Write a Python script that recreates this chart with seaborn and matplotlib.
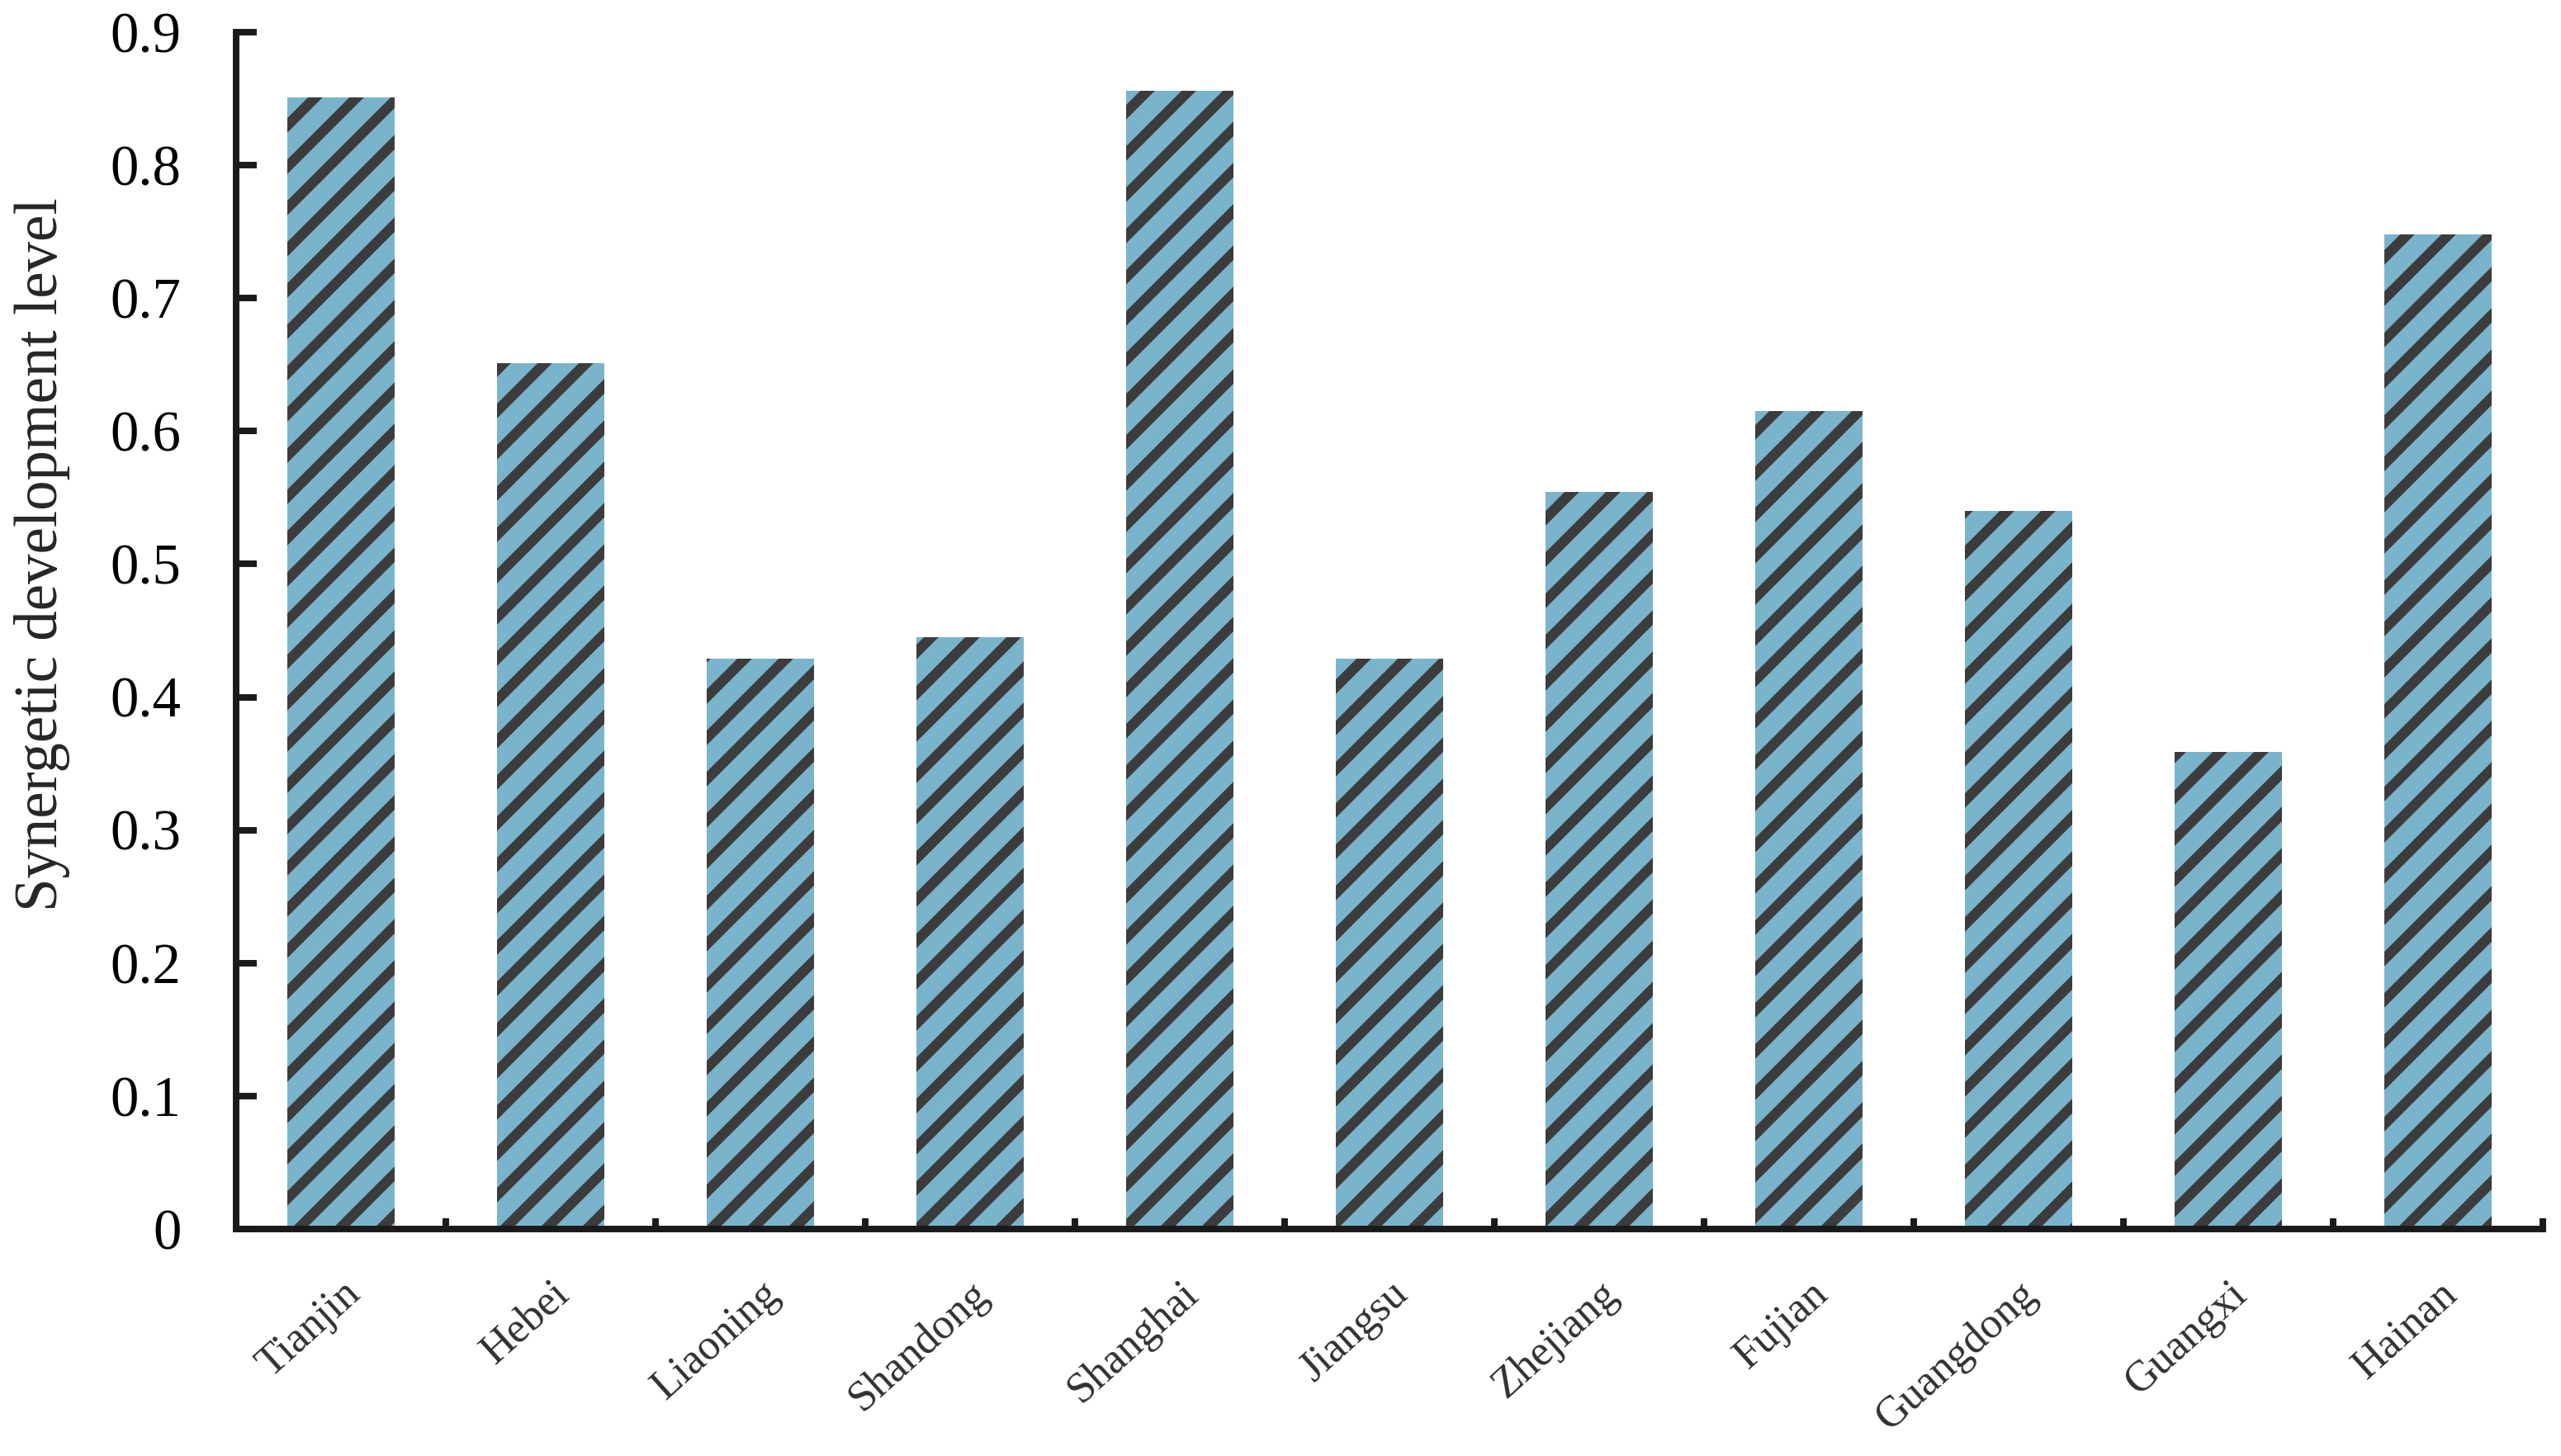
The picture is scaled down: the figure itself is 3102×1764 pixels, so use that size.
import matplotlib
matplotlib.use('Agg')
import numpy as np
import matplotlib.pyplot as plt
import seaborn as sns

# data
provinces = ['Tianjin', 'Hebei', 'Liaoning', 'Shandong', 'Shanghai', 'Jiangsu',
             'Zhejiang', 'Fujian', 'Guangdong', 'Guangxi', 'Hainan']
levels = [0.851, 0.651, 0.429, 0.445, 0.856, 0.429, 0.554, 0.615, 0.540, 0.359, 0.748]
ytick_values = [0, 0.1, 0.2, 0.3, 0.4, 0.5, 0.6, 0.7, 0.8, 0.9]
ytick_labels = ['0', '0.1', '0.2', '0.3', '0.4', '0.5', '0.6', '0.7', '0.8', '0.9']

bar_color = '#7ab4cc'
stripe_color = '#3c3c3c'

sns.set_style('ticks')
plt.rcParams['font.family'] = ['Liberation Serif', 'DejaVu Serif']
plt.rcParams['hatch.linewidth'] = 3.0
plt.rcParams['hatch.color'] = stripe_color

fig = plt.figure(figsize=(10.34, 5.88), dpi=300)
ax = fig.add_axes([0.0922, 0.1559, 0.9007, 0.8220])

sns.barplot(x=provinces, y=levels, color=bar_color, saturation=1, width=0.51,
            hatch='//', edgecolor=stripe_color, linewidth=0, ax=ax)

ax.set_xlim(-0.5, len(provinces) - 0.5)
ax.set_ylim(0, 0.9)

# y axis
ax.set_yticks(ytick_values)
ax.set_yticklabels(ytick_labels)
ax.tick_params(axis='y', direction='in', length=6, width=1.9, labelsize=16.5,
               pad=16, colors='#1a1a1a', labelcolor='black')
ax.set_ylabel('Synergetic development level', fontsize=17.5)
ax.yaxis.set_label_coords(-0.072, 0.564)

# x axis: labels under bars, small ticks between bars
ax.set_xticks(range(len(provinces)))
ax.set_xticklabels(provinces, rotation=42, ha='right', rotation_mode='anchor',
                   fontsize=12.5, color='#303030')
ax.tick_params(axis='x', which='major', length=0, pad=13)
ax.set_xticks(np.arange(-0.5, len(provinces), 1), minor=True)
ax.tick_params(axis='x', which='minor', direction='in', length=3.2, width=1.9,
               color='#1a1a1a')
ax.set_xlabel('')

sns.despine(ax=ax)
for side in ['left', 'bottom']:
    ax.spines[side].set_linewidth(1.9)
    ax.spines[side].set_color('#1a1a1a')

fig.savefig('out.png', dpi=300)
